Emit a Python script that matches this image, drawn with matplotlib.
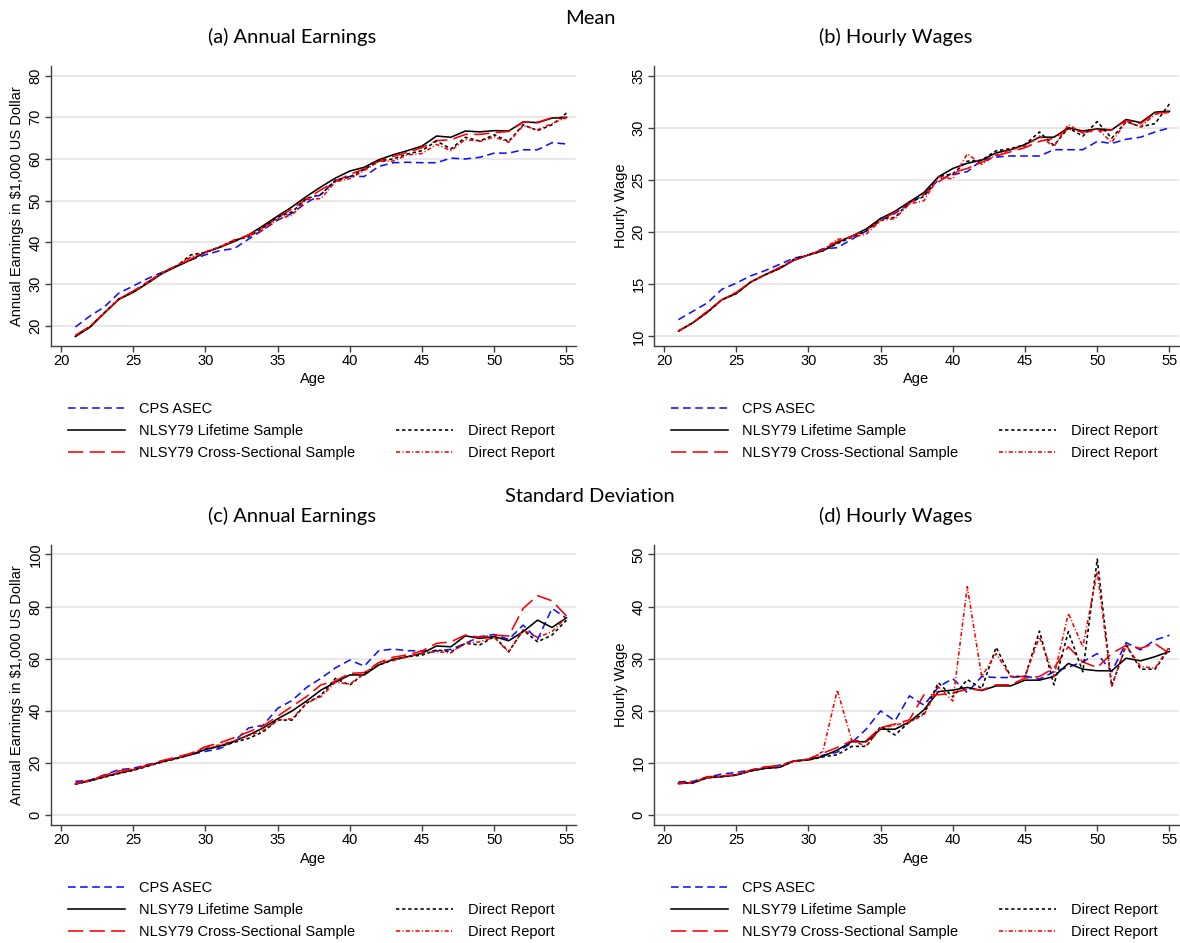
import matplotlib
matplotlib.use("Agg")
import matplotlib.pyplot as plt
from matplotlib.lines import Line2D

ages = list(range(21, 56))

# (a) mean annual earnings, $1,000
cps_a = [19.7, 22.3, 24.5, 27.8, 29.5, 31.3, 32.8, 34.3, 35.8, 37.0, 38.0, 38.5, 40.8, 43.0, 45.3, 47.0, 49.5, 51.5,
         54.8, 55.8, 55.8, 58.2, 59.1, 59.2, 59.1, 59.1, 60.2, 60.0, 60.4, 61.4, 61.4, 62.2, 62.2, 63.9, 63.6]
lifetime_a = [17.4, 19.6, 23.0, 26.3, 28.0, 30.2, 32.5, 34.2, 35.8, 37.6, 38.8, 40.2, 41.8, 44.0, 46.3, 48.5, 51.0,
              53.3, 55.4, 57.1, 58.0, 59.8, 61.0, 62.0, 63.1, 65.5, 65.2, 66.7, 66.5, 66.8, 66.7, 68.9, 68.7, 69.8, 70.0]
cross_a = [17.7, 19.8, 23.0, 26.4, 28.3, 30.5, 32.7, 34.4, 36.0, 37.6, 38.8, 40.4, 41.8, 43.6, 45.9, 48.0, 50.4, 52.6,
           54.6, 56.3, 57.6, 59.5, 60.6, 61.6, 62.7, 64.4, 64.6, 65.9, 65.9, 66.3, 66.6, 68.8, 68.8, 69.9, 69.7]
direct_life_a = [17.5, 19.7, 23.1, 26.4, 28.1, 30.3, 32.6, 34.3, 37.0, 37.6, 38.9, 40.5, 41.3, 43.5, 46.0, 47.3, 50.5,
                 51.5, 54.9, 55.7, 57.5, 59.5, 60.0, 61.2, 62.0, 64.3, 62.4, 65.2, 64.3, 65.8, 64.2, 68.2, 66.8, 68.2, 71.0]
direct_cross_a = [17.6, 19.8, 23.1, 26.4, 28.2, 30.3, 32.6, 34.4, 36.5, 37.7, 38.9, 40.6, 41.5, 43.0, 45.6, 46.5, 50.3,
                  50.5, 54.5, 55.3, 57.2, 59.4, 59.5, 61.0, 61.3, 63.5, 62.0, 64.7, 64.2, 65.3, 64.0, 68.0, 67.0, 68.5, 70.0]

# (b) mean hourly wage
cps_b = [11.6, 12.4, 13.2, 14.5, 15.1, 15.8, 16.3, 16.9, 17.5, 17.8, 18.4, 18.5, 19.3, 20.1, 21.1, 21.8, 22.7, 23.6,
         25.0, 25.5, 25.8, 26.9, 27.2, 27.3, 27.3, 27.3, 27.9, 27.9, 27.9, 28.7, 28.5, 28.9, 29.1, 29.6, 30.0]
lifetime_b = [10.5, 11.3, 12.3, 13.5, 14.1, 15.2, 15.9, 16.5, 17.3, 17.8, 18.2, 19.0, 19.6, 20.3, 21.3, 22.0, 22.9,
              23.8, 25.3, 26.1, 26.6, 26.9, 27.6, 27.9, 28.4, 29.1, 29.1, 30.0, 29.7, 29.9, 29.8, 30.8, 30.5, 31.5, 31.6]
cross_b = [10.5, 11.3, 12.4, 13.5, 14.2, 15.2, 15.9, 16.6, 17.3, 17.8, 18.3, 19.1, 19.6, 20.2, 21.1, 21.9, 22.8, 23.6,
           24.8, 25.7, 26.1, 26.7, 27.3, 27.7, 28.1, 28.7, 29.0, 29.9, 29.6, 29.7, 29.8, 30.7, 30.4, 31.4, 31.5]
direct_life_b = [10.5, 11.3, 12.3, 13.5, 14.1, 15.2, 15.9, 16.5, 17.4, 17.8, 18.2, 18.9, 19.5, 20.1, 21.3, 21.4, 22.9,
                 23.4, 25.3, 25.6, 26.8, 26.9, 27.8, 28.0, 28.4, 29.6, 28.3, 30.0, 29.2, 30.6, 29.0, 30.6, 30.1, 30.4, 32.3]
direct_cross_b = [10.5, 11.3, 12.4, 13.5, 14.2, 15.2, 15.9, 16.6, 17.3, 17.8, 18.3, 19.3, 19.5, 19.8, 21.1, 21.3, 22.7,
                  23.0, 25.3, 25.1, 27.5, 26.5, 27.4, 27.9, 28.2, 29.2, 28.2, 30.3, 29.5, 29.9, 28.6, 30.6, 30.1, 31.3, 31.5]

# (c) s.d. of annual earnings
cps_c = [13.0, 13.5, 15.5, 17.5, 18.0, 19.5, 20.5, 22.0, 23.3, 24.5, 25.6, 28.4, 33.5, 34.5, 41.0, 44.0, 49.0, 52.5,
         56.5, 59.5, 57.2, 63.1, 63.7, 63.1, 63.0, 63.0, 63.6, 65.9, 68.5, 69.3, 67.4, 72.9, 67.4, 79.3, 75.5]
lifetime_c = [12.0, 13.2, 14.8, 16.2, 17.4, 19.0, 20.6, 21.9, 23.3, 25.2, 26.6, 28.4, 30.8, 33.5, 37.0, 40.0, 43.8,
              48.0, 51.0, 53.8, 53.8, 57.6, 59.8, 60.8, 62.1, 64.9, 64.6, 68.8, 67.8, 68.5, 66.9, 70.4, 74.8, 72.0, 75.7]
cross_c = [12.3, 13.4, 15.3, 17.0, 17.7, 19.2, 21.0, 22.3, 23.8, 26.3, 27.8, 29.8, 32.0, 34.3, 38.0, 41.8, 45.5, 50.0,
           51.5, 54.4, 54.7, 58.5, 60.6, 61.5, 63.0, 65.9, 66.5, 69.1, 68.2, 69.1, 68.7, 79.3, 84.2, 82.2, 76.4]
direct_life_c = [12.0, 13.2, 14.6, 16.0, 17.2, 18.8, 20.4, 21.7, 23.2, 25.5, 26.3, 28.0, 29.5, 32.0, 36.5, 36.5, 43.0,
                 46.0, 52.5, 49.9, 54.4, 57.6, 59.5, 60.8, 61.4, 63.4, 62.7, 65.9, 65.3, 68.5, 62.7, 71.0, 66.5, 69.1, 74.8]
direct_cross_c = [12.1, 13.3, 15.0, 16.5, 17.5, 19.0, 20.8, 22.0, 23.5, 26.0, 27.0, 28.6, 30.5, 32.5, 36.5, 37.0, 43.0,
                  45.5, 51.0, 50.3, 54.4, 58.5, 59.3, 60.8, 62.1, 62.7, 62.3, 65.9, 66.5, 68.2, 62.6, 71.0, 68.2, 70.4, 75.9]

# (d) s.d. of hourly wage
cps_d = [6.4, 6.5, 7.3, 7.9, 8.2, 8.7, 9.2, 9.6, 10.4, 10.7, 11.5, 12.1, 13.9, 16.5, 20.0, 18.1, 22.9, 21.1,
         24.6, 26.2, 23.5, 26.6, 26.4, 26.4, 26.7, 26.1, 27.5, 28.4, 29.4, 31.0, 27.5, 33.1, 31.7, 33.6, 34.5]
lifetime_d = [6.1, 6.2, 7.2, 7.4, 7.7, 8.5, 9.0, 9.2, 10.4, 10.6, 11.3, 12.5, 14.1, 14.1, 16.5, 16.5, 17.9, 20.2,
              23.7, 24.0, 24.5, 23.9, 24.8, 24.8, 25.9, 25.9, 26.6, 29.1, 28.0, 27.7, 27.7, 30.1, 29.6, 30.4, 31.4]
cross_d = [6.1, 6.3, 7.4, 7.5, 7.8, 8.6, 9.3, 9.5, 10.4, 10.8, 11.9, 13.0, 14.3, 14.3, 16.8, 17.5, 18.3, 23.1,
           23.1, 23.4, 24.2, 24.0, 25.0, 25.0, 26.3, 26.6, 28.2, 32.3, 29.4, 28.3, 31.0, 32.6, 32.0, 32.9, 31.0]
direct_life_d = [6.1, 6.2, 7.2, 7.4, 7.7, 8.5, 9.0, 9.2, 10.4, 10.6, 11.2, 11.6, 13.2, 13.2, 17.0, 15.4, 17.9, 19.5,
                 25.4, 22.7, 26.0, 24.3, 32.2, 26.6, 26.6, 35.3, 25.0, 35.2, 27.5, 49.1, 24.7, 32.6, 28.0, 28.0, 32.0]
direct_cross_d = [6.1, 6.2, 7.3, 7.5, 7.8, 8.6, 9.2, 9.4, 10.4, 10.7, 12.2, 24.0, 14.4, 13.2, 16.7, 17.3, 17.9, 19.2,
                  24.6, 21.9, 43.8, 26.6, 31.0, 26.6, 26.6, 34.2, 26.6, 38.7, 32.3, 46.7, 24.8, 32.6, 28.5, 28.2, 32.3]

series_labels = ["CPS ASEC", "NLSY79 Lifetime Sample", "NLSY79 Cross-Sectional Sample",
                 "Direct Report", "Direct Report"]

plt.rcParams['lines.scale_dashes'] = False
plt.rcParams['font.family'] = ['Liberation Sans', 'DejaVu Sans']

W, H = 1180, 943

# colour / dash pattern for each series, in points
styles = [
    dict(color='#1010ff', dashes=(5.5, 3.2)),
    dict(color='black', linestyle='-'),
    dict(color='#ff0000', dashes=(11, 4.5)),
    dict(color='black', dashes=(2.4, 2.0)),
    dict(color='#ff0000', dashes=(3.0, 1.6, 0.8, 1.6)),
]


def px_axes(left, top, right, bottom):
    return [left / W, 1 - bottom / H, (right - left) / W, (bottom - top) / H]


def panel(rect, data, ylim, yticks, ylabel):
    ax = fig.add_axes(rect)
    for vals, st in zip(data, styles):
        ax.plot(ages, vals, lw=1.15, **st)
    ax.set_xlim(19.31, 55.66)
    ax.set_ylim(*ylim)
    ax.set_xticks([20, 25, 30, 35, 40, 45, 50, 55])
    ax.set_yticks(yticks)
    ax.grid(axis='y', color='#e6e6e6', lw=1.3)
    ax.set_axisbelow(True)
    for s in ['top', 'right']:
        ax.spines[s].set_visible(False)
    for s in ['left', 'bottom']:
        ax.spines[s].set_color('#404040')
        ax.spines[s].set_linewidth(1.0)
    ax.tick_params(length=4, width=1.0, color='#404040', labelsize=10.5, pad=2)
    for lab in ax.get_yticklabels():
        lab.set_rotation(90)
        lab.set_va('center')
    ax.set_xlabel('Age', fontsize=10.5, labelpad=3)
    ax.set_ylabel(ylabel, fontsize=10.5, labelpad=3)
    return ax


def add_legend(x, y):
    handles = [Line2D([], [], lw=1.15, **st) for st in styles]
    blank = Line2D([], [], color='none')
    order = [handles[0], handles[1], handles[2], blank, handles[3], handles[4]]
    labels = [series_labels[0], series_labels[1], series_labels[2], '', series_labels[3], series_labels[4]]
    fig.legend(order, labels, ncol=2, loc='upper left', bbox_to_anchor=(x / W, 1 - y / H),
               frameon=False, fontsize=10.5, handlelength=3.9, handletextpad=1.0,
               columnspacing=2.8, labelspacing=0.55, borderpad=0, borderaxespad=0)


fig = plt.figure(figsize=(W / 100, H / 100), dpi=100)

title_font = dict(family=['Lato', 'DejaVu Sans'], fontsize=14.5, ha='center', va='center')

fig.text(590 / W, 1 - 18 / H, 'Mean', **title_font)
fig.text(292 / W, 1 - 37 / H, '(a) Annual Earnings', **title_font)
fig.text(896 / W, 1 - 37 / H, '(b) Hourly Wages', **title_font)
fig.text(590 / W, 1 - 497 / H, 'Standard Deviation', **title_font)
fig.text(292 / W, 1 - 516 / H, '(c) Annual Earnings', **title_font)
fig.text(896 / W, 1 - 516 / H, '(d) Hourly Wages', **title_font)

panel(px_axes(51, 66, 576, 345.7),
      [cps_a, lifetime_a, cross_a, direct_life_a, direct_cross_a],
      (15.2, 82.3), [20, 30, 40, 50, 60, 70, 80], 'Annual Earnings in $1,000 US Dollar')
panel(px_axes(654, 66, 1179, 345.7),
      [cps_b, lifetime_b, cross_b, direct_life_b, direct_cross_b],
      (9.1, 35.93), [10, 15, 20, 25, 30, 35], 'Hourly Wage')
panel(px_axes(51, 545, 576, 825),
      [cps_c, lifetime_c, cross_c, direct_life_c, direct_cross_c],
      (-3.7, 103.6), [0, 20, 40, 60, 80, 100], 'Annual Earnings in $1,000 US Dollar')
panel(px_axes(654, 545, 1179, 825),
      [cps_d, lifetime_d, cross_d, direct_life_d, direct_cross_d],
      (-1.86, 51.8), [0, 10, 20, 30, 40, 50], 'Hourly Wage')

add_legend(68, 402)
add_legend(671, 402)
add_legend(68, 881)
add_legend(671, 881)

fig.savefig('out.png', dpi=100)
